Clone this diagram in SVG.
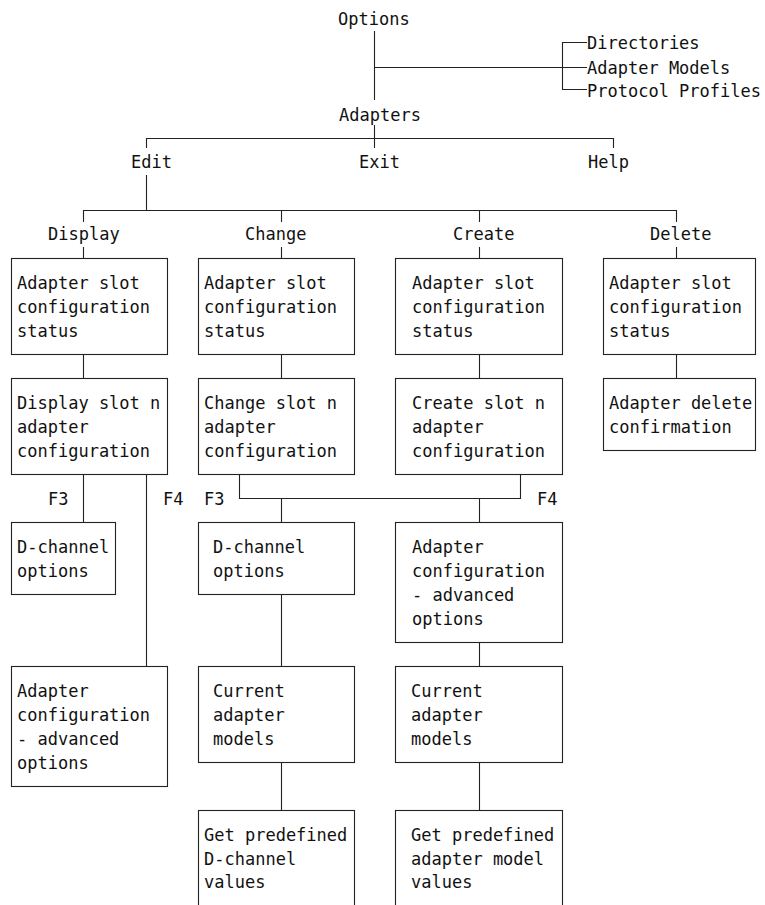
<svg xmlns="http://www.w3.org/2000/svg" width="765" height="905" viewBox="0 0 765 905">
  <style>
    text { font-family: "DejaVu Sans Mono", "Liberation Mono", monospace; font-size: 17px; fill: #111; }
    .box { fill: #fff; stroke: #222; stroke-width: 1.1; }
    .wire { fill: none; stroke: #222; stroke-width: 1.1; }
  </style>
  <rect width="765" height="905" fill="#fff"/>

  <!-- connectors -->
  <g id="connectors" class="wire">
    <path d="M374.5 31 V100"/>
    <path d="M374.5 67.5 H587"/>
    <path d="M587 42.5 H562.5 V89.5 H587"/>
    <path d="M374.5 125 V148"/>
    <path d="M146.5 148 V138.5 H613.5 V148"/>
    <path d="M146.5 175 V210.5"/>
    <path d="M83.5 222 V210.5 H676.5 V222"/>
    <path d="M281.5 210.5 V222"/>
    <path d="M479.5 210.5 V222"/>
    <path d="M83.5 247 V258.5"/>
    <path d="M281.5 247 V258.5"/>
    <path d="M479.5 247 V258.5"/>
    <path d="M676.5 247 V258.5"/>
    <path d="M83.5 354.5 V378.5"/>
    <path d="M281.5 354.5 V378.5"/>
    <path d="M479.5 354.5 V378.5"/>
    <path d="M676.5 354.5 V378.5"/>
    <path d="M83.5 474.5 V522.5"/>
    <path d="M146.5 474.5 V666.5"/>
    <path d="M239.5 474.5 V498.5 H520.5 V474.5"/>
    <path d="M281.5 498.5 V522.5"/>
    <path d="M479.5 498.5 V522.5"/>
    <path d="M281.5 594.5 V666.5"/>
    <path d="M281.5 762.5 V810.5"/>
    <path d="M479.5 642.5 V666.5"/>
    <path d="M479.5 762.5 V810.5"/>
  </g>

  <!-- menu labels -->
  <g id="options"><text x="338" y="25">Options</text></g>
  <g id="directories"><text x="587" y="49">Directories</text></g>
  <g id="adapter-models"><text x="587" y="74">Adapter Models</text></g>
  <g id="protocol-profiles"><text x="587" y="97">Protocol Profiles</text></g>
  <g id="adapters"><text x="339" y="121">Adapters</text></g>
  <g id="edit"><text x="131" y="168">Edit</text></g>
  <g id="exit"><text x="359" y="168">Exit</text></g>
  <g id="help"><text x="588" y="168">Help</text></g>
  <g id="display"><text x="48" y="240">Display</text></g>
  <g id="change"><text x="245" y="240">Change</text></g>
  <g id="create"><text x="453" y="240">Create</text></g>
  <g id="delete"><text x="650" y="240">Delete</text></g>

  <!-- key labels -->
  <g id="keys">
    <text x="48" y="505">F3</text>
    <text x="163" y="505">F4</text>
    <text x="204" y="505">F3</text>
    <text x="537" y="505">F4</text>
  </g>

  <!-- Display column -->
  <g id="display-status">
    <rect class="box" x="11.5" y="258.5" width="156" height="96"/>
    <text x="17" y="289">Adapter slot</text>
    <text x="17" y="313">configuration</text>
    <text x="17" y="337">status</text>
  </g>
  <g id="display-slot">
    <rect class="box" x="11.5" y="378.5" width="156" height="96"/>
    <text x="17" y="409">Display slot n</text>
    <text x="17" y="433">adapter</text>
    <text x="17" y="457">configuration</text>
  </g>
  <g id="display-dchannel">
    <rect class="box" x="11.5" y="522.5" width="104" height="72"/>
    <text x="17" y="553">D-channel</text>
    <text x="17" y="577">options</text>
  </g>
  <g id="display-advanced">
    <rect class="box" x="11.5" y="666.5" width="156" height="120"/>
    <text x="17" y="697">Adapter</text>
    <text x="17" y="721">configuration</text>
    <text x="17" y="745">- advanced</text>
    <text x="17" y="769">options</text>
  </g>

  <!-- Change column -->
  <g id="change-status">
    <rect class="box" x="198.5" y="258.5" width="156" height="96"/>
    <text x="204" y="289">Adapter slot</text>
    <text x="204" y="313">configuration</text>
    <text x="204" y="337">status</text>
  </g>
  <g id="change-slot">
    <rect class="box" x="198.5" y="378.5" width="156" height="96"/>
    <text x="204" y="409">Change slot n</text>
    <text x="204" y="433">adapter</text>
    <text x="204" y="457">configuration</text>
  </g>
  <g id="change-dchannel">
    <rect class="box" x="198.5" y="522.5" width="156" height="72"/>
    <text x="213" y="553">D-channel</text>
    <text x="213" y="577">options</text>
  </g>
  <g id="change-models">
    <rect class="box" x="198.5" y="666.5" width="156" height="96"/>
    <text x="213" y="697">Current</text>
    <text x="213" y="721">adapter</text>
    <text x="213" y="745">models</text>
  </g>
  <g id="change-predefined">
    <rect class="box" x="198.5" y="810.5" width="156" height="120"/>
    <text x="204" y="841">Get predefined</text>
    <text x="204" y="865">D-channel</text>
    <text x="204" y="888">values</text>
  </g>

  <!-- Create column -->
  <g id="create-status">
    <rect class="box" x="395.5" y="258.5" width="167" height="96"/>
    <text x="412" y="289">Adapter slot</text>
    <text x="412" y="313">configuration</text>
    <text x="412" y="337">status</text>
  </g>
  <g id="create-slot">
    <rect class="box" x="395.5" y="378.5" width="167" height="96"/>
    <text x="412" y="409">Create slot n</text>
    <text x="412" y="433">adapter</text>
    <text x="412" y="457">configuration</text>
  </g>
  <g id="create-advanced">
    <rect class="box" x="395.5" y="522.5" width="167" height="120"/>
    <text x="412" y="553">Adapter</text>
    <text x="412" y="577">configuration</text>
    <text x="412" y="601">- advanced</text>
    <text x="412" y="625">options</text>
  </g>
  <g id="create-models">
    <rect class="box" x="395.5" y="666.5" width="167" height="96"/>
    <text x="411" y="697">Current</text>
    <text x="411" y="721">adapter</text>
    <text x="411" y="745">models</text>
  </g>
  <g id="create-predefined">
    <rect class="box" x="395.5" y="810.5" width="167" height="120"/>
    <text x="411" y="841">Get predefined</text>
    <text x="411" y="865">adapter model</text>
    <text x="411" y="888">values</text>
  </g>

  <!-- Delete column -->
  <g id="delete-status">
    <rect class="box" x="603.5" y="258.5" width="152" height="96"/>
    <text x="609" y="289">Adapter slot</text>
    <text x="609" y="313">configuration</text>
    <text x="609" y="337">status</text>
  </g>
  <g id="delete-confirm">
    <rect class="box" x="603.5" y="378.5" width="152" height="72"/>
    <text x="609" y="409">Adapter delete</text>
    <text x="609" y="433">confirmation</text>
  </g>
</svg>
